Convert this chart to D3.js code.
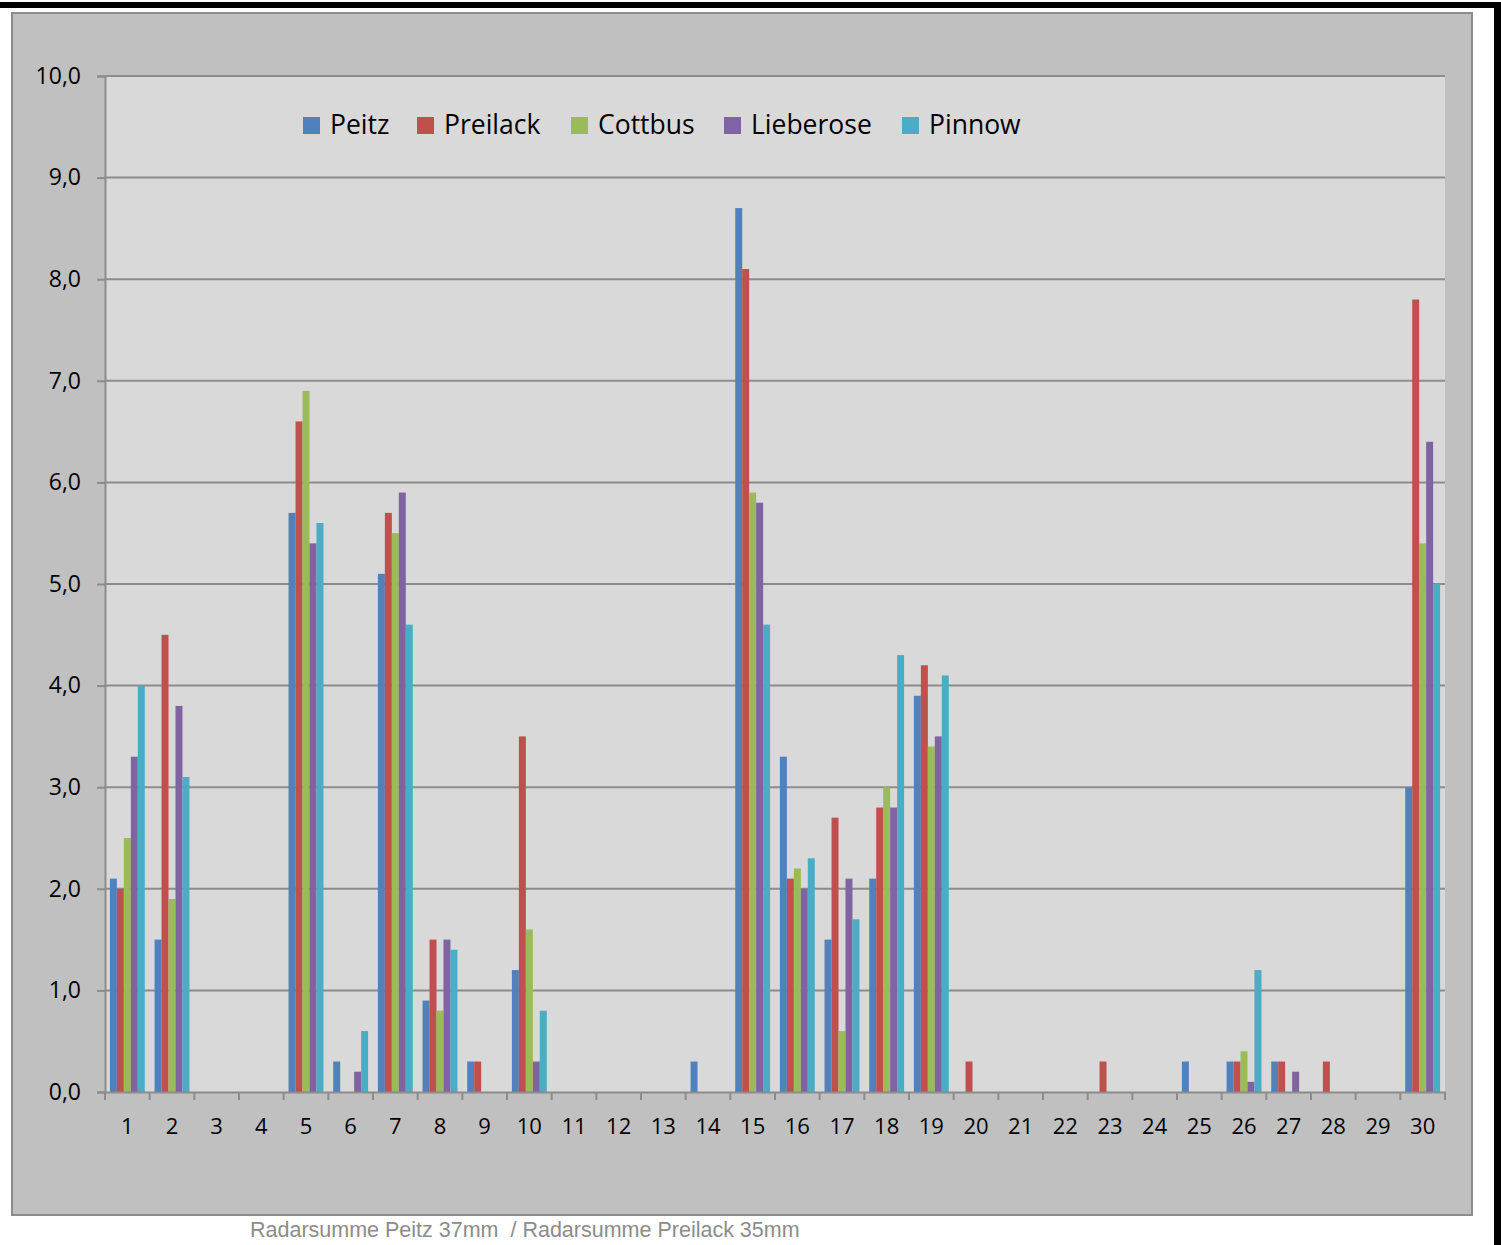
<!DOCTYPE html>
<html>
<head>
<meta charset="utf-8">
<script src="https://cdn.jsdelivr.net/npm/d3@7"></script>
<style>
  body { margin: 0; background: #fff; }
  svg { display: block; }
</style>
</head>
<body>
<div class="board"></div>
<script>
// chart data
var days = d3.range(1, 31).map(String);
var seriesNames = ['Peitz', 'Preilack', 'Cottbus', 'Lieberose', 'Pinnow'];
var seriesColors = ['#4f81bd', '#c0504d', '#9bbb59', '#8064a2', '#4bacc6'];
var peitz     = [2.1, 1.5, 0, 0, 5.7, 0.3, 5.1, 0.9, 0.3, 1.2, 0, 0, 0, 0.3, 8.7, 3.3, 1.5, 2.1, 3.9, 0, 0, 0, 0, 0, 0.3, 0.3, 0.3, 0, 0, 3.0];
var preilack  = [2.0, 4.5, 0, 0, 6.6, 0, 5.7, 1.5, 0.3, 3.5, 0, 0, 0, 0, 8.1, 2.1, 2.7, 2.8, 4.2, 0.3, 0, 0, 0.3, 0, 0, 0.3, 0.3, 0.3, 0, 7.8];
var cottbus   = [2.5, 1.9, 0, 0, 6.9, 0, 5.5, 0.8, 0, 1.6, 0, 0, 0, 0, 5.9, 2.2, 0.6, 3.0, 3.4, 0, 0, 0, 0, 0, 0, 0.4, 0, 0, 0, 5.4];
var lieberose = [3.3, 3.8, 0, 0, 5.4, 0.2, 5.9, 1.5, 0, 0.3, 0, 0, 0, 0, 5.8, 2.0, 2.1, 2.8, 3.5, 0, 0, 0, 0, 0, 0, 0.1, 0.2, 0, 0, 6.4];
var pinnow    = [4.0, 3.1, 0, 0, 5.6, 0.6, 4.6, 1.4, 0, 0.8, 0, 0, 0, 0, 4.6, 2.3, 1.7, 4.3, 4.1, 0, 0, 0, 0, 0, 0, 1.2, 0, 0, 0, 5.0];
var yTicks = [0, 1, 2, 3, 4, 5, 6, 7, 8, 9, 10];
var caption = 'Radarsumme Peitz 37mm  / Radarsumme Preilack 35mm';

var allSeries = [peitz, preilack, cottbus, lieberose, pinnow];

var width = 1501;
var height = 1245;
var plot = {left: 105, right: 1445, top: 76, bottom: 1092};

var svg = d3.select('.board').append('svg')
  .attr('width', width)
  .attr('height', height);

// frame bits
svg.append('rect').attr('x', 0).attr('y', 2).attr('width', width).attr('height', 6).attr('fill', '#000');
svg.append('rect').attr('x', 1494).attr('y', 2).attr('width', 7).attr('height', height).attr('fill', '#000');
svg.append('rect')
  .attr('x', 12).attr('y', 13).attr('width', 1460).attr('height', 1202)
  .attr('fill', '#c0c0c0').attr('stroke', '#8c8c8c').attr('stroke-width', 2);
svg.append('rect')
  .attr('x', plot.left).attr('y', plot.top)
  .attr('width', plot.right - plot.left).attr('height', plot.bottom - plot.top)
  .attr('fill', '#d9d9d9');

var x = d3.scaleBand().domain(days).range([plot.left, plot.right]);
var xInner = d3.scaleBand().domain(seriesNames).range([0, x.bandwidth()]).paddingOuter(0.7).paddingInner(0);
var y = d3.scaleLinear().domain([0, 10]).range([plot.bottom, plot.top]);

// grid
svg.append('g').selectAll('line').data(yTicks.slice(1))
  .enter().append('line')
  .attr('x1', plot.left).attr('x2', plot.right)
  .attr('y1', function(d) { return y(d); })
  .attr('y2', function(d) { return y(d); })
  .attr('stroke', '#8c8c8c').attr('stroke-width', 2);

// bars
var barData = [];
days.forEach(function(day, i) {
  seriesNames.forEach(function(name, s) {
    barData.push({day: day, name: name, color: seriesColors[s], value: allSeries[s][i]});
  });
});

svg.append('g').selectAll('rect').data(barData.filter(function(d) { return d.value > 0; }))
  .enter().append('rect')
  .attr('x', function(d) { return x(d.day) + xInner(d.name); })
  .attr('y', function(d) { return y(d.value); })
  .attr('width', xInner.bandwidth())
  .attr('height', function(d) { return y(0) - y(d.value); })
  .attr('fill', function(d) { return d.color; });

// y axis
var yAxis = d3.axisLeft(y).tickValues(yTicks).tickSize(8).tickPadding(16)
  .tickFormat(function(d) { return d3.format('.1f')(d).replace('.', ','); });
var gy = svg.append('g').attr('transform', 'translate(' + plot.left + ',0)').call(yAxis);
gy.select('.domain').attr('stroke', '#8c8c8c').attr('stroke-width', 2);
gy.selectAll('.tick line').attr('stroke', '#8c8c8c').attr('stroke-width', 2);
gy.selectAll('.tick text')
  .attr('font-family', '"Open Sans", sans-serif').attr('font-size', 23).attr('fill', '#000');

// x axis
var xAxis = d3.axisBottom(x).tickSize(0).tickPadding(26);
var gx = svg.append('g').attr('transform', 'translate(0,' + plot.bottom + ')').call(xAxis);
gx.select('.domain').attr('stroke', '#8c8c8c').attr('stroke-width', 2);
gx.selectAll('.tick text')
  .attr('font-family', '"Open Sans", sans-serif').attr('font-size', 22).attr('fill', '#000');
svg.append('g').selectAll('line').data(days.concat(['end']))
  .enter().append('line')
  .attr('x1', function(d) { return d === 'end' ? plot.right : x(d); })
  .attr('x2', function(d) { return d === 'end' ? plot.right : x(d); })
  .attr('y1', plot.bottom).attr('y2', plot.bottom + 8)
  .attr('stroke', '#8c8c8c').attr('stroke-width', 2);

// legend
var legendX = [303, 417, 571, 724, 902];
var legend = svg.append('g').selectAll('g').data(seriesNames)
  .enter().append('g')
  .attr('transform', function(d, i) { return 'translate(' + legendX[i] + ',117)'; });
legend.append('rect').attr('width', 17).attr('height', 17)
  .attr('fill', function(d, i) { return seriesColors[i]; });
legend.append('text').attr('x', 27).attr('y', 17)
  .attr('font-family', '"Open Sans", sans-serif').attr('font-size', 26.5).attr('fill', '#000')
  .text(function(d) { return d; });

// caption under the chart
svg.append('text').attr('x', 250).attr('y', 1237)
  .attr('font-family', '"Liberation Sans", Arial, sans-serif').attr('font-size', 21.5).attr('fill', '#8c8c8c')
  .attr('xml:space', 'preserve').style('white-space', 'pre')
  .text(caption);
</script>
</body>
</html>
